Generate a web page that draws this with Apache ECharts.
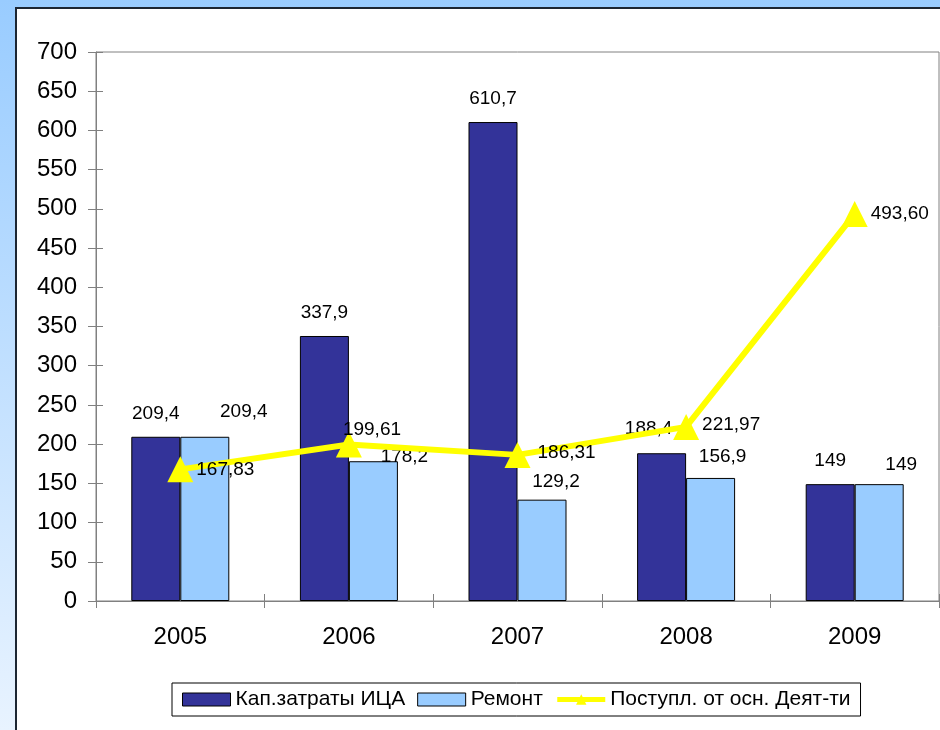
<!DOCTYPE html>
<html>
<head>
<meta charset="utf-8">
<style>
  html, body { margin: 0; padding: 0; background: #fff; }
  #chart { width: 940px; height: 730px; }
</style>
<script src="https://cdn.jsdelivr.net/npm/echarts@6/dist/echarts.min.js"></script>
</head>
<body>
<div id="chart"></div>
<script>
// Categories and series values
const years = ['2005', '2006', '2007', '2008', '2009'];
const capexValues = [209.4, 337.9, 610.7, 188.4, 149];
const repairValues = [209.4, 178.2, 129.2, 156.9, 149];
const incomeValues = [167.83, 199.61, 186.31, 221.97, 493.60];
const seriesNames = ['Кап.затраты ИЦА', 'Ремонт', 'Поступл. от осн. Деят-ти'];

// Value axis range
const yMin = 0, yMax = 700, yStep = 50;

// Label nudges (px) so neighbouring labels don't collide
const capexLabelNudge = [[0, 0], [0, 0], [0, 0], [-13, -1], [0, 0]];
const repairLabelNudge = [[39, -2], [31, 19], [14, 6], [12, 2], [22, 4]];
const incomeLabelNudge = [[0, 0], [-22, -15], [4, -2], [0, -2], [0, 0]];

const FONT = "'Liberation Sans', Arial, sans-serif";
const AXIS_GREY = '#808080';
const DARK = '#333399', LIGHT = '#99ccff', YELLOW = '#ffff00';

const commaNum = v => String(v).replace('.', ',');
const comma2 = v => Number(v).toFixed(2).replace('.', ',');

const chart = echarts.init(document.getElementById('chart'), null, { renderer: 'canvas' });

const labelBase = { color: '#000', fontSize: 19, fontFamily: FONT };

const option = {
  animation: false,
  textStyle: { fontFamily: FONT },
  graphic: [
    {
      type: 'rect', z: -100, silent: true,
      shape: { x: 0, y: 0, width: 940, height: 730 },
      style: {
        fill: new echarts.graphic.LinearGradient(0, 0, 0, 1, [
          { offset: 0, color: '#99ccff' },
          { offset: 1, color: '#e8f3ff' }
        ])
      }
    },
    {
      type: 'rect', z: -90, silent: true,
      shape: { x: 16, y: 8, width: 960, height: 760 },
      style: { fill: '#ffffff', stroke: '#1c2633', lineWidth: 2 }
    }
  ],
  grid: {
    left: 96, right: 1, top: 52, bottom: 129,
    show: true, borderColor: AXIS_GREY, borderWidth: 1, backgroundColor: 'transparent'
  },
  legend: {
    left: 172, top: 683,
    padding: [6, 10, 6, 10],
    itemGap: 12,
    itemWidth: 48, itemHeight: 13,
    borderColor: '#000', borderWidth: 1,
    backgroundColor: '#fff',
    textStyle: { fontSize: 21, color: '#000', fontFamily: FONT },
    data: [
      { name: seriesNames[0], icon: 'rect', itemStyle: { color: DARK, borderColor: '#000', borderWidth: 1 } },
      { name: seriesNames[1], icon: 'rect', itemStyle: { color: LIGHT, borderColor: '#000', borderWidth: 1 } },
      { name: seriesNames[2], itemStyle: { color: YELLOW }, lineStyle: { color: YELLOW, width: 5 } }
    ]
  },
  xAxis: [
    {
      type: 'category', data: years, position: 'bottom',
      axisLine: { lineStyle: { color: AXIS_GREY, width: 1 } },
      axisTick: { show: true, length: 7, lineStyle: { color: AXIS_GREY } },
      axisLabel: { fontSize: 24, color: '#000', margin: 24, fontFamily: FONT }
    },
    {
      type: 'category', data: years, position: 'bottom',
      axisLine: { show: false },
      axisTick: { show: true, inside: true, length: 7, lineStyle: { color: AXIS_GREY } },
      axisLabel: { show: false }
    }
  ],
  yAxis: [
    {
      type: 'value', min: yMin, max: yMax, interval: yStep, position: 'left',
      axisLine: { show: true, lineStyle: { color: AXIS_GREY, width: 1 } },
      axisTick: { show: true, length: 8, lineStyle: { color: AXIS_GREY } },
      splitLine: { show: false },
      axisLabel: { fontSize: 24, color: '#000', margin: 19, fontFamily: FONT }
    },
    {
      type: 'value', min: yMin, max: yMax, interval: yStep, position: 'left',
      axisLine: { show: false },
      axisTick: { show: true, inside: true, length: 7, lineStyle: { color: AXIS_GREY } },
      splitLine: { show: false },
      axisLabel: { show: false }
    }
  ],
  series: [
    {
      name: seriesNames[0], type: 'bar',
      barWidth: 49, barGap: '0%',
      itemStyle: { color: DARK, borderColor: '#000', borderWidth: 1 },
      label: Object.assign({ show: true, position: 'top', distance: 14,
        formatter: p => commaNum(p.value) }, labelBase),
      data: capexValues.map((v, i) => ({ value: v, label: { offset: capexLabelNudge[i] } }))
    },
    {
      name: seriesNames[1], type: 'bar',
      barWidth: 49, barGap: '0%',
      itemStyle: { color: LIGHT, borderColor: '#000', borderWidth: 1 },
      label: Object.assign({ show: true, position: 'top', distance: 14,
        formatter: p => commaNum(p.value) }, labelBase),
      data: repairValues.map((v, i) => ({ value: v, label: { offset: repairLabelNudge[i] } }))
    },
    {
      name: seriesNames[2], type: 'line',
      symbol: 'triangle', symbolSize: 26,
      lineStyle: { color: YELLOW, width: 6 },
      itemStyle: { color: YELLOW },
      label: Object.assign({ show: true, position: 'right', distance: 3,
        formatter: p => comma2(p.value) }, labelBase),
      data: incomeValues.map((v, i) => ({ value: v, label: { offset: incomeLabelNudge[i] } }))
    }
  ]
};

chart.setOption(option);
</script>
</body>
</html>
